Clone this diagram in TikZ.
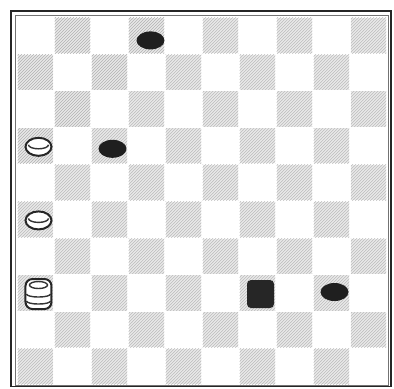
\documentclass[tikz,border=0pt]{standalone}
\usepackage{tikz}
\usetikzlibrary{patterns,shapes.geometric}

\begin{document}
\begin{tikzpicture}[
      x=37pt, y=36.8pt,
      darksq/.style ={fill=black!9, postaction={pattern=north east lines, pattern color=black!30}},
      frame/.style  ={draw=black!85, line width=1.8pt},
      inframe/.style={draw=black!55, line width=0.5pt},
      bman/.style   ={ellipse, fill=black!88, minimum width=28pt, minimum height=18pt, inner sep=0pt},
      bking/.style  ={rectangle, rounded corners=4pt, fill=black!85, minimum width=27pt, minimum height=28pt, inner sep=0pt},
      wman/.style   ={ellipse, draw=black!85, line width=2pt, fill=white, minimum width=26pt, minimum height=18pt, inner sep=0pt},
      wking/.style  ={rectangle, rounded corners=7pt, draw=black!85, line width=2pt, fill=white, minimum width=26pt, minimum height=30pt, inner sep=0pt},
      rim/.style    ={draw=black!80, line width=1.4pt}
    ]
    \useasboundingbox (-0.459,0.462) rectangle (10.189,-10.082);
    % --- board ---
    \foreach \r in {0,...,9}{
      \foreach \c in {0,...,9}{
        \ifodd\numexpr\r+\c\relax
          \path[darksq] (\c+0.02,-\r-0.02) rectangle (\c+0.98,-\r-0.98);
        \fi
      }
    }
    \draw[inframe] (-0.06,0.06) rectangle (10.02,-10.0);
    \draw[frame] (-0.16,0.16) rectangle (10.1,-10.04);
    % --- black pieces ---
    \node[bman]  (b03) at ([shift={(4pt,-5pt)}]3.5,-0.5) {};
    \node[bman]  (b32) at ([shift={(3pt,-3pt)}]2.5,-3.5) {};
    \node[bking] (b76) at ([shift={(3pt,-1pt)}]6.5,-7.5) {};
    \node[bman]  (b78) at ([shift={(3pt,1pt)}]8.5,-7.5) {};
    % --- white pieces ---
    \node[wman]  (w30) at ([shift={(3pt,-1pt)}]0.5,-3.5) {};
    \node[wman]  (w50) at ([shift={(3pt,-1pt)}]0.5,-5.5) {};
    \node[wking] (w70) at ([shift={(3pt,-1pt)}]0.5,-7.5) {};
    \draw[rim] ([shift={(-10pt,2pt)}]w30.center) arc[start angle=180, end angle=360, x radius=10pt, y radius=4pt];
    \draw[rim] ([shift={(-10pt,2pt)}]w50.center) arc[start angle=180, end angle=360, x radius=10pt, y radius=4pt];
    \draw[rim] ([shift={(0pt,-7pt)}]w70.north) ellipse[x radius=9pt, y radius=3.5pt];
    \draw[rim] ([shift={(-12pt,0pt)}]w70.center) arc[start angle=180, end angle=360, x radius=12pt, y radius=3pt];
    \draw[rim] ([shift={(-12pt,-7pt)}]w70.center) arc[start angle=180, end angle=360, x radius=12pt, y radius=3pt];
  \end{tikzpicture}
\end{document}
